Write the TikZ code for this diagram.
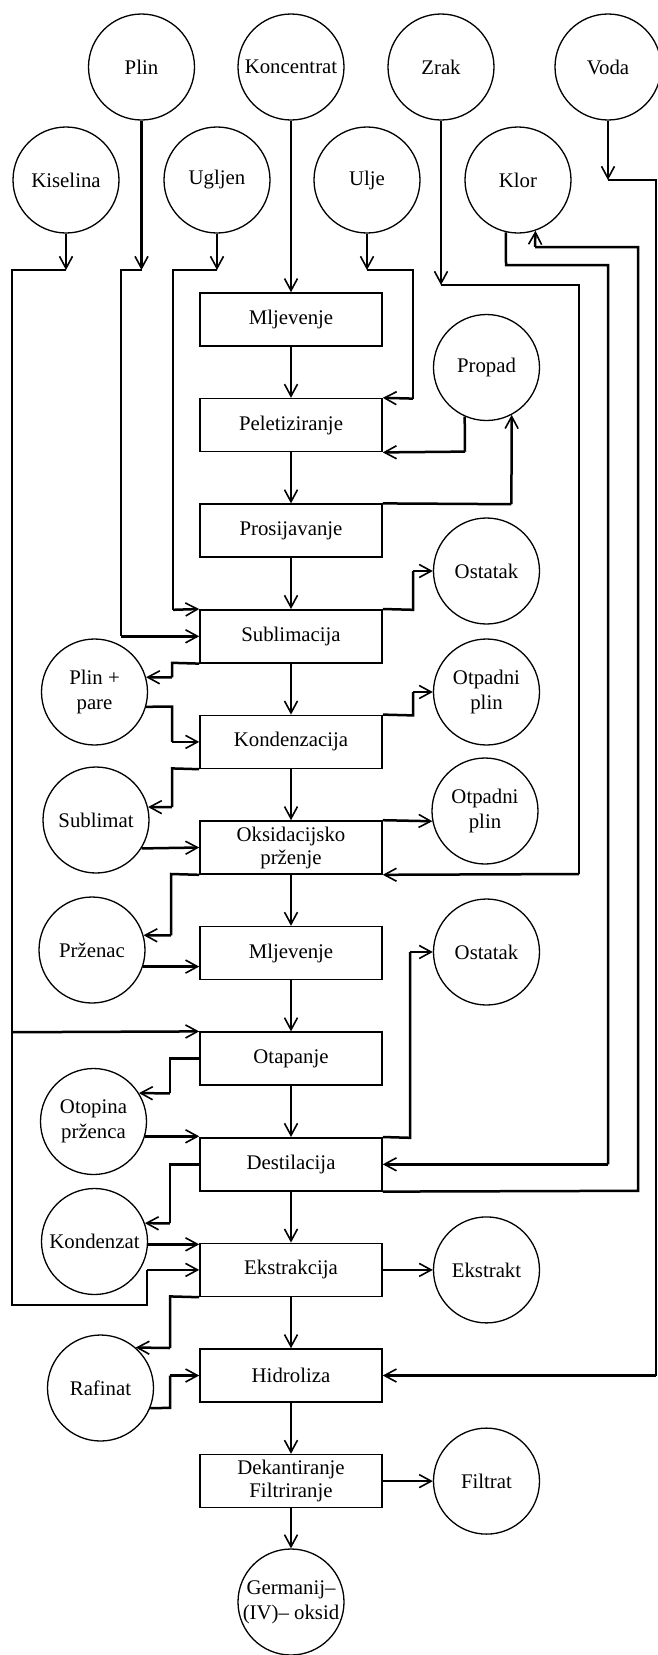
\documentclass[tikz,border=0pt]{standalone}
\usepackage{fontspec}
\setmainfont{Liberation Serif}
\usetikzlibrary{arrows.meta}
\pgfdeclarelayer{edgelayer}
\pgfdeclarelayer{nodelayer}
\pgfsetlayers{edgelayer,nodelayer,main}
\tikzstyle{none}=[inner sep=0pt]
\tikzstyle{stream}=[circle, draw, line width=0.65pt, minimum size=53pt, inner sep=0pt, align=center, font=\fontsize{10.4}{12.5}\selectfont]
\tikzstyle{proc}=[rectangle, draw, line width=0.8pt, minimum width=91pt, minimum height=26.5pt, inner sep=1pt, align=center, font=\fontsize{10.4}{11.5}\selectfont]
\tikzstyle{pipe}=[line width=1.25pt]
\tikzstyle{flow}=[line width=1.25pt, -{Straight Barb[length=6pt,width=6.5pt,line width=0.8pt]}]

\begin{document}
\begin{tikzpicture}[x=5pt,y=5pt]
	\useasboundingbox (0,0) rectangle (65.8,-165.5);
	\begin{pgfonlayer}{nodelayer}
		\node [style=stream] (0) at (6.6, -18) {Kiselina};
		\node [style=stream] (1) at (14.15, -6.7) {Plin};
		\node [style=stream] (2) at (21.7, -18) {Ugljen};
		\node [style=stream] (3) at (29.1, -6.7) {Koncentrat};
		\node [style=stream] (4) at (36.7, -18) {Ulje};
		\node [style=stream] (5) at (44.1, -6.7) {Zrak};
		\node [style=stream] (6) at (51.8, -18) {Klor};
		\node [style=stream] (7) at (60.8, -6.7) {Voda};
		\node [style=proc] (10) at (29.1, -31.95) {Mljevenje};
		\node [style=proc] (11) at (29.1, -42.51) {Peletiziranje};
		\node [style=proc] (12) at (29.1, -53.07) {Prosijavanje};
		\node [style=proc] (13) at (29.1, -63.63) {Sublimacija};
		\node [style=proc] (14) at (29.1, -74.19) {Kondenzacija};
		\node [style=proc] (15) at (29.1, -84.75) {Oksidacijsko\\prženje};
		\node [style=proc] (16) at (29.1, -95.31) {Mljevenje};
		\node [style=proc] (17) at (29.1, -105.87) {Otapanje};
		\node [style=proc] (18) at (29.1, -116.43) {Destilacija};
		\node [style=proc] (19) at (29.1, -126.99) {Ekstrakcija};
		\node [style=proc] (20) at (29.1, -137.55) {Hidroliza};
		\node [style=proc] (21) at (29.1, -148.11) {Dekantiranje\\Filtriranje};
		\node [style=stream] (22) at (48.65, -36.75) {Propad};
		\node [style=stream] (23) at (48.65, -57.1) {Ostatak};
		\node [style=stream] (24) at (48.65, -69.2) {Otpadni\\plin};
		\node [style=stream] (25) at (48.5, -81.1) {Otpadni\\plin};
		\node [style=stream] (26) at (48.65, -95.2) {Ostatak};
		\node [style=stream] (27) at (48.65, -126.99) {Ekstrakt};
		\node [style=stream] (28) at (48.65, -148.11) {Filtrat};
		\node [style=stream] (29) at (9.45, -69.2) {Plin +\\pare};
		\node [style=stream] (30) at (9.6, -82.0) {Sublimat};
		\node [style=stream] (31) at (9.2, -95.0) {Prženac};
		\node [style=stream] (32) at (9.35, -112.15) {Otopina\\prženca};
		\node [style=stream] (33) at (9.45, -124.15) {Kondenzat};
		\node [style=stream] (34) at (10.05, -138.8) {Rafinat};
		\node [style=stream] (35) at (29.1, -160.2) {Germanij–\\(IV)– oksid};
		\node [style=none] (40) at (6.6, -27) {};
		\node [style=none] (41) at (1.2, -27) {};
		\node [style=none] (42) at (1.2, -103.22) {};
		\node [style=none] (43) at (1.2, -130.5) {};
		\node [style=none] (44) at (14.7, -130.5) {};
		\node [style=none] (45) at (14.7, -126.99) {};
		\node [style=none] (46) at (14.15, -27) {};
		\node [style=none] (47) at (12.1, -27) {};
		\node [style=none] (48) at (12.1, -63.63) {};
		\node [style=none] (49) at (21.7, -27) {};
		\node [style=none] (50) at (17.3, -27) {};
		\node [style=none] (51) at (17.3, -60.98) {};
		\node [style=none] (52) at (36.7, -27) {};
		\node [style=none] (53) at (41.3, -27) {};
		\node [style=none] (54) at (41.3, -39.86) {};
		\node [style=none] (55) at (44.1, -28.5) {};
		\node [style=none] (56) at (57.9, -28.5) {};
		\node [style=none] (57) at (57.9, -87.4) {};
		\node [style=none] (58) at (50.6, -26.5) {};
		\node [style=none] (59) at (60.8, -26.5) {};
		\node [style=none] (60) at (60.8, -116.43) {};
		\node [style=none] (61) at (63.8, -119.08) {};
		\node [style=none] (62) at (63.8, -24.7) {};
		\node [style=none] (63) at (53.5, -24.7) {};
		\node [style=none] (64) at (60.8, -18.0) {};
		\node [style=none] (65) at (65.6, -18.0) {};
		\node [style=none] (66) at (65.6, -137.55) {};
		\node [style=none] (67) at (46.5, -45.16) {};
		\node [style=none] (68) at (51.14, -50.42) {};
		\node [style=none] (69) at (41.3, -60.98) {};
		\node [style=none] (70) at (41.3, -57.1) {};
		\node [style=none] (71) at (17.2, -66.28) {};
		\node [style=none] (72) at (17.2, -67.74) {};
		\node [style=none] (73) at (17.2, -70.66) {};
		\node [style=none] (74) at (17.2, -74.19) {};
		\node [style=none] (75) at (41.3, -71.54) {};
		\node [style=none] (76) at (41.3, -69.2) {};
		\node [style=none] (77) at (17.2, -76.84) {};
		\node [style=none] (78) at (17.2, -80.72) {};
		\node [style=none] (79) at (17.1, -87.4) {};
		\node [style=none] (80) at (17.1, -93.54) {};
		\node [style=none] (81) at (41.0, -113.78) {};
		\node [style=none] (82) at (41.0, -95.2) {};
		\node [style=none] (83) at (17.0, -105.87) {};
		\node [style=none] (84) at (17.0, -109.34) {};
		\node [style=none] (85) at (17.0, -116.43) {};
		\node [style=none] (86) at (17.0, -122.34) {};
		\node [style=none] (87) at (17.0, -129.64) {};
		\node [style=none] (88) at (17.0, -134.8) {};
		\node [style=none] (89) at (17.0, -140.79) {};
		\node [style=none] (90) at (17.0, -137.55) {};
	\end{pgfonlayer}
	\begin{pgfonlayer}{edgelayer}
		\draw [style=flow] (0) to (40.center);
		\draw [style=pipe] (40.center) to (41.center) to (42.center);
		\draw [style=flow] (42.center) to (17.north west);
		\draw [style=pipe] (42.center) to (43.center) to (44.center) to (45.center);
		\draw [style=flow] (45.center) to (19.west);
		\draw [style=flow] (1) to (46.center);
		\draw [style=pipe] (46.center) to (47.center) to (48.center);
		\draw [style=flow] (48.center) to (13.west);
		\draw [style=flow] (2) to (49.center);
		\draw [style=pipe] (49.center) to (50.center) to (51.center);
		\draw [style=flow] (51.center) to (13.north west);
		\draw [style=flow] (3) to (10);
		\draw [style=flow] (4) to (52.center);
		\draw [style=pipe] (52.center) to (53.center) to (54.center);
		\draw [style=flow] (54.center) to (11.north east);
		\draw [style=flow] (5) to (55.center);
		\draw [style=pipe] (55.center) to (56.center) to (57.center);
		\draw [style=flow] (57.center) to (15.south east);
		\draw [style=pipe] (6.257) to (58.center) to (59.center) to (60.center);
		\draw [style=flow] (60.center) to (18.east);
		\draw [style=pipe] (18.south east) to (61.center) to (62.center) to (63.center);
		\draw [style=flow] (63.center) to (6.289);
		\draw [style=flow] (7) to (64.center);
		\draw [style=pipe] (64.center) to (65.center) to (66.center);
		\draw [style=flow] (66.center) to (20.east);
		\draw [style=flow] (10) to (11);
		\draw [style=flow] (11) to (12);
		\draw [style=flow] (12) to (13);
		\draw [style=flow] (13) to (14);
		\draw [style=flow] (14) to (15);
		\draw [style=flow] (15) to (16);
		\draw [style=flow] (16) to (17);
		\draw [style=flow] (17) to (18);
		\draw [style=flow] (18) to (19);
		\draw [style=flow] (19) to (20);
		\draw [style=flow] (20) to (21);
		\draw [style=flow] (21) to (35);
		\draw [style=pipe] (22.246) to (67.center);
		\draw [style=flow] (67.center) to (11.south east);
		\draw [style=pipe] (12.north east) to (68.center);
		\draw [style=flow] (68.center) to (22.298);
		\draw [style=pipe] (13.north east) to (69.center) to (70.center);
		\draw [style=flow] (70.center) to (23.west);
		\draw [style=pipe] (13.south west) to (71.center) to (72.center);
		\draw [style=flow] (72.center) to (29.16);
		\draw [style=pipe] (29.344) to (73.center) to (74.center);
		\draw [style=flow] (74.center) to (14.west);
		\draw [style=pipe] (14.north east) to (75.center) to (76.center);
		\draw [style=flow] (76.center) to (24.west);
		\draw [style=pipe] (14.south west) to (77.center) to (78.center);
		\draw [style=flow] (78.center) to (30.14);
		\draw [style=flow] (30.328) to (15.west);
		\draw [style=flow] (15.north east) to (25.191);
		\draw [style=pipe] (15.south west) to (79.center) to (80.center);
		\draw [style=flow] (80.center) to (31.16);
		\draw [style=flow] (31.342) to (31.342 -| 16.west);
		\draw [style=pipe] (18.north east) to (81.center) to (82.center);
		\draw [style=flow] (82.center) to (26.west);
		\draw [style=pipe] (17.west) to (83.center) to (84.center);
		\draw [style=flow] (84.center) to (32.32);
		\draw [style=flow] (32.344) to (32.344 -| 18.west);
		\draw [style=pipe] (18.west) to (85.center) to (86.center);
		\draw [style=flow] (86.center) to (33.20);
		\draw [style=flow] (33.357) to (33.357 -| 19.west);
		\draw [style=flow] (19) to (27);
		\draw [style=pipe] (19.south west) to (87.center) to (88.center);
		\draw [style=flow] (88.center) to (34.49);
		\draw [style=pipe] (34.338) to (89.center) to (90.center);
		\draw [style=flow] (90.center) to (20.west);
		\draw [style=flow] (21) to (28);
	\end{pgfonlayer}
\end{tikzpicture}
\end{document}
